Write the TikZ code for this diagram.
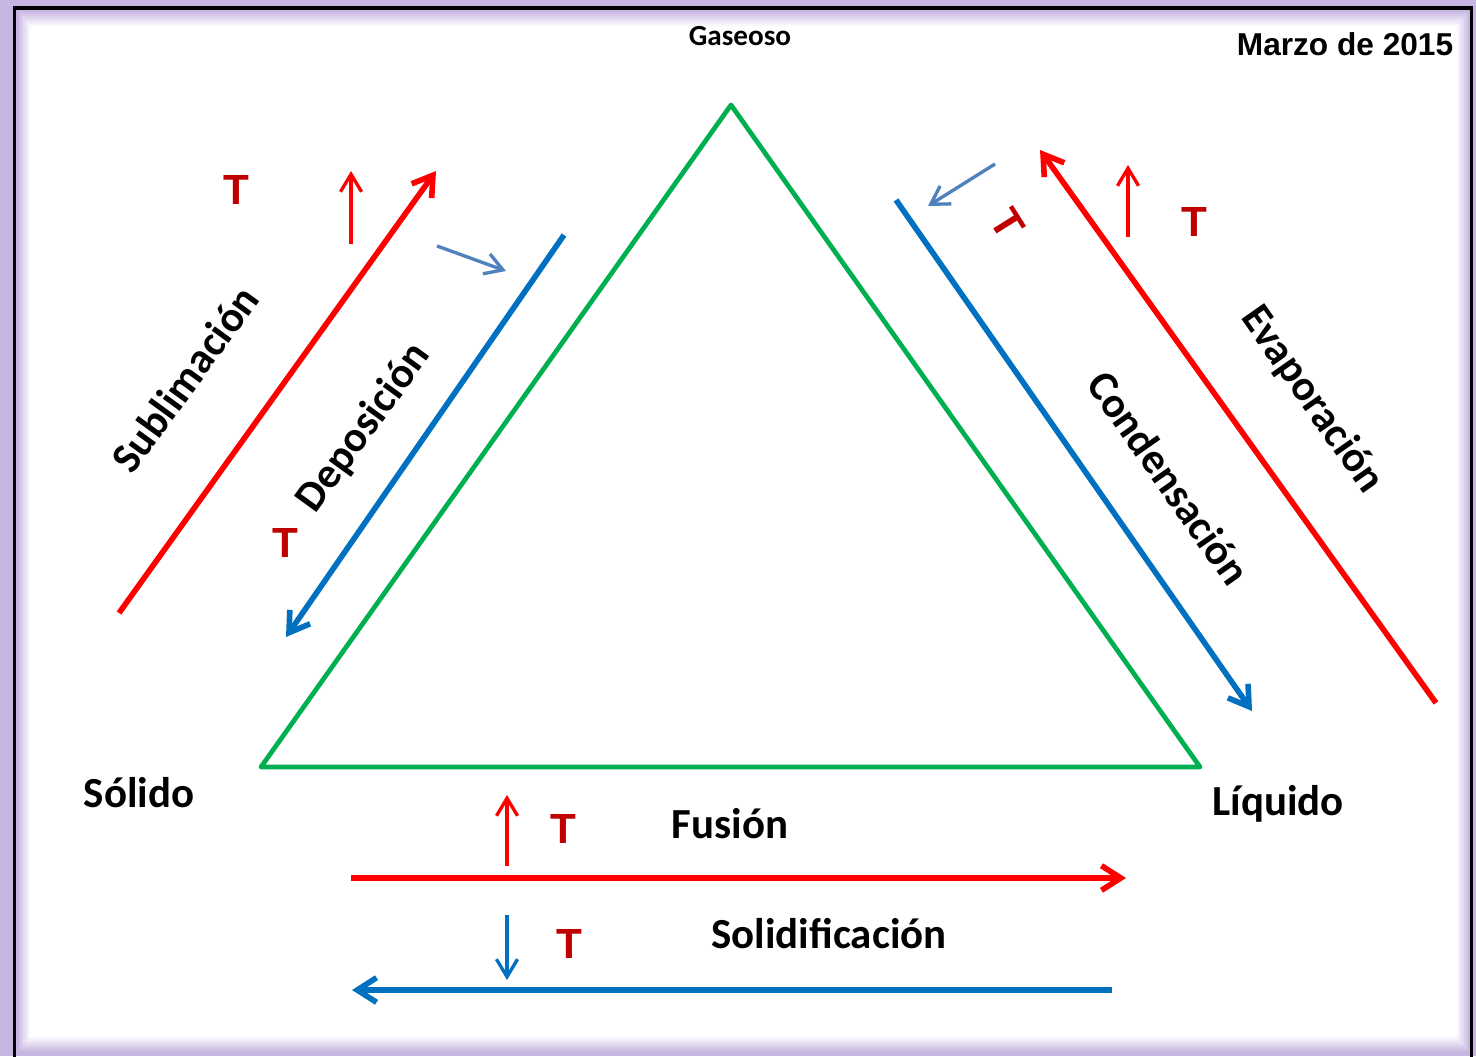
\documentclass[tikz,border=0pt]{standalone}
\usepackage{fontspec}
\setmainfont{Carlito}
\newfontfamily\arialfont{Liberation Sans}
\usetikzlibrary{arrows.meta}
\definecolor{lav}{RGB}{200,182,226}
\definecolor{tri}{RGB}{0,176,80}
\definecolor{heat}{RGB}{255,0,0}
\definecolor{cold}{RGB}{0,112,192}
\definecolor{steel}{RGB}{79,129,189}
\definecolor{tred}{RGB}{192,0,0}
\tikzset{
  bigarrow/.style={line width=1.6pt, -{Straight Barb[length=5.5pt,width=7pt]}},
  smallarrow/.style={line width=0.95pt, -{Straight Barb[length=5pt,width=6pt]}},
  phase/.style={inner sep=0pt, font=\fontsize{12.2}{15}\selectfont\bfseries},
  temp/.style={inner sep=0pt, text=tred, font=\arialfont\fontsize{12}{14}\selectfont\bfseries}
}
\begin{document}
\begin{tikzpicture}
\useasboundingbox (0,0) rectangle (14.76,10.56);
% frame with glow
\fill[lav] (0,0) rectangle (14.76,10.56);
\foreach \k [evaluate=\k as \p using int(100-12.5*\k)] in {0,...,8}
  \fill[lav!\p!white] ({0.17+0.016*\k},{0.03+0.02*\k}) rectangle ({14.70-0.016*\k},{10.46-0.02*\k});
\begin{scope}
\clip (0,0) rectangle (14.76,10.56);
\draw[line width=1.1pt] (0.145,-0.3) rectangle (14.715,10.48);
\end{scope}
% triangle
\coordinate (gas) at (7.31,9.51);
\coordinate (sol) at (2.61,2.89);
\coordinate (liq) at (12.00,2.89);
\draw[tri, line width=1.35pt, line join=round] (gas) -- (sol) -- (liq) -- cycle;
\node[inner sep=0pt, font=\fontsize{8.3}{10}\selectfont\bfseries] (gaslabel) at (7.40,10.20) {Gaseoso};
\node[phase] (sollabel) at (1.39,2.63) {Sólido};
\node[phase] (liqlabel) at (12.78,2.52) {Líquido};
\node[inner sep=0pt, font=\arialfont\fontsize{9}{11}\selectfont\bfseries] (date) at (13.45,10.12) {Marzo de 2015};
% sublimacion / deposicion
\coordinate (sub1) at (1.19,4.43);
\coordinate (sub2) at (4.36,8.85);
\coordinate (dep1) at (5.64,8.21);
\coordinate (dep2) at (2.86,4.19);
\draw[heat, bigarrow] (sub1) -- (sub2);
\draw[cold, bigarrow] (dep1) -- (dep2);
\node[phase, rotate=54] (sublabel) at (1.85,6.77) {Sublimación};
\node[phase, rotate=54] (deplabel) at (3.64,6.28) {Deposición};
\coordinate (up1a) at (3.51,8.12);
\coordinate (up1b) at (3.51,8.85);
\draw[heat, smallarrow] (up1a) -- (up1b);
\coordinate (st1a) at (4.37,8.10);
\coordinate (st1b) at (5.06,7.85);
\draw[steel, smallarrow] (st1a) -- (st1b);
\node[temp] (t1) at (2.36,8.66) {T};
\node[temp] (t2) at (2.85,5.13) {T};
% condensacion / evaporacion
\coordinate (con1) at (8.96,8.56);
\coordinate (con2) at (12.52,3.45);
\coordinate (eva1) at (14.36,3.53);
\coordinate (eva2) at (10.40,9.06);
\draw[cold, bigarrow] (con1) -- (con2);
\draw[heat, bigarrow] (eva1) -- (eva2);
\node[phase, rotate=-55] (conlabel) at (11.69,5.78) {Condensación};
\node[phase, rotate=-55] (evalabel) at (13.12,6.56) {Evaporación};
\coordinate (st2a) at (9.95,8.92);
\coordinate (st2b) at (9.28,8.50);
\draw[steel, smallarrow] (st2a) -- (st2b);
\coordinate (up2a) at (11.28,8.19);
\coordinate (up2b) at (11.28,8.91);
\draw[heat, smallarrow] (up2a) -- (up2b);
\node[temp, rotate=-58] (t3) at (10.08,8.32) {T};
\node[temp] (t4) at (11.94,8.34) {T};
% fusion / solidificacion
\coordinate (fus1) at (3.51,1.78);
\coordinate (fus2) at (11.26,1.78);
\coordinate (sld1) at (11.12,0.66);
\coordinate (sld2) at (3.52,0.66);
\draw[heat, bigarrow] (fus1) -- (fus2);
\draw[cold, bigarrow] (sld1) -- (sld2);
\node[phase] (fuslabel) at (7.30,2.32) {Fusión};
\node[phase] (sldlabel) at (8.29,1.22) {Solidificación};
\coordinate (up3a) at (5.07,1.90);
\coordinate (up3b) at (5.07,2.61);
\draw[heat, smallarrow] (up3a) -- (up3b);
\coordinate (dn1a) at (5.07,1.41);
\coordinate (dn1b) at (5.07,0.76);
\draw[cold, smallarrow] (dn1a) -- (dn1b);
\node[temp] (t5) at (5.63,2.27) {T};
\node[temp] (t6) at (5.69,1.12) {T};
\end{tikzpicture}
\end{document}
